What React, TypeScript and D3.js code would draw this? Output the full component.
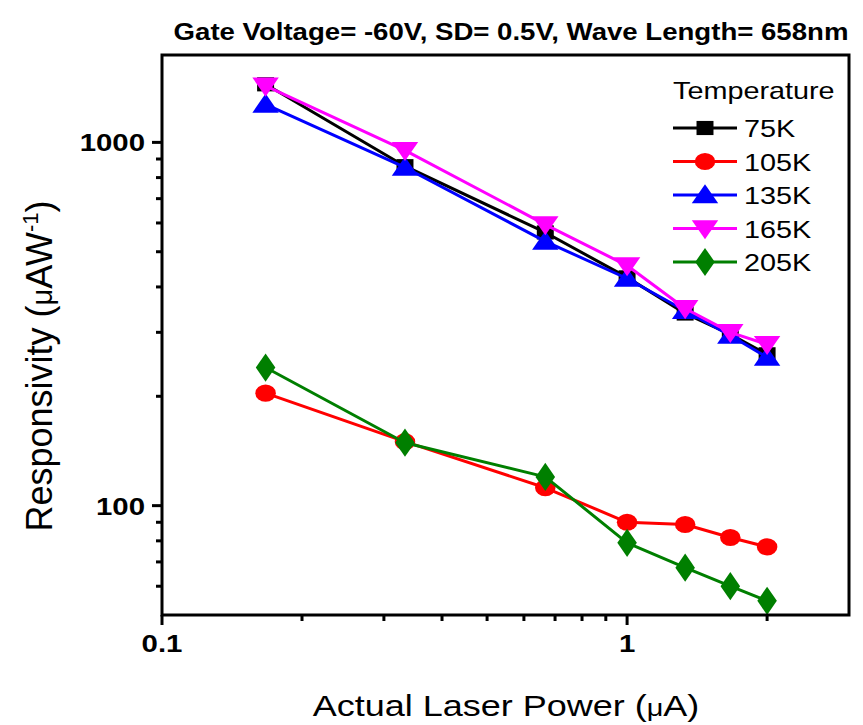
import React from "react";
import * as d3 from "d3";

// Laser power (µA) at which responsivity was measured
const power = [0.167, 0.333, 0.667, 1, 1.333, 1.667, 2];

// Responsivity (µA/W) for each temperature
const r75K = [1445, 860, 565, 425, 338, 296, 261];
const r105K = [204, 150, 112, 90, 88.7, 81.7, 77];
const r135K = [1273, 853, 534, 422, 344, 294, 256];
const r165K = [1430, 951, 594, 458, 349, 300, 278];
const r205K = [240, 149, 120, 79, 67.5, 60, 54.7];

const seriesNames = ["75K", "105K", "135K", "165K", "205K"];
const seriesValues = [r75K, r105K, r135K, r165K, r205K];
const seriesColors = ["#000000", "#ff0000", "#0000ff", "#ff00ff", "#007f00"];

const yMajorTicks = [100, 1000];
const yMinorTicks = [60, 70, 80, 90, 200, 300, 400, 500, 600, 700, 800, 900];
const xMajorTicks = [0.1, 1];
const xMinorTicks = [0.2, 0.3, 0.4, 0.5, 0.6, 0.7, 0.8, 0.9, 2];

const W = 863;
const H = 725;
const left = 162;
const right = 849;
const top = 55;
const bottom = 615;
// the figure's artwork is drawn slightly wide
const SX = 1.2;

const x = d3.scaleLog().domain([0.1, 3]).range([left, right]);
const y = d3.scaleLog().domain([50, 1740]).range([bottom, top]);

const symbolTypes = [
  d3.symbolSquare,
  d3.symbolCircle,
  d3.symbolTriangle,
  d3.symbolTriangle,
  d3.symbolDiamond,
];
const symbolSizes = [200, 230, 210, 210, 230];
const symbolRot = [0, 0, 0, 180, 0];

function Marker({ i, cx, cy }: { i: number; cx: number; cy: number }) {
  const d = d3.symbol().type(symbolTypes[i]).size(symbolSizes[i])() as string;
  const ty = i === 2 ? 2 : i === 3 ? -2 : 0;
  return (
    <path
      d={d}
      fill={seriesColors[i]}
      transform={`translate(${cx},${cy + ty}) scale(${SX},1) rotate(${symbolRot[i]})`}
    />
  );
}

function Label({
  x0,
  y0,
  anchor,
  size,
  bold,
  children,
}: {
  x0: number;
  y0: number;
  anchor: "start" | "middle" | "end";
  size: number;
  bold?: boolean;
  children: React.ReactNode;
}) {
  return (
    <text
      transform={`translate(${x0},${y0}) scale(${SX},1)`}
      textAnchor={anchor}
      fontSize={size}
      fontWeight={bold ? "bold" : "normal"}
      fill="#000"
    >
      {children}
    </text>
  );
}

export default function App() {
  const line = d3
    .line<number>()
    .x((_, k) => x(power[k]))
    .y((v) => y(v));

  const font = "Arial, 'Liberation Sans', Helvetica, sans-serif";

  return (
    <svg
      width={W}
      height={H}
      style={{ position: "absolute", left: 0, top: 0, background: "#fff" }}
      fontFamily={font}
    >
      <rect x={0} y={0} width={W} height={H} fill="#fff" />
      {/* title */}
      <Label x0={511} y0={40} anchor="middle" size={23} bold>
        Gate Voltage= -60V, SD= 0.5V, Wave Length= 658nm
      </Label>

      {/* series */}
      {seriesValues.map((vals, i) => (
        <g key={seriesNames[i]}>
          <path
            d={line(vals) as string}
            fill="none"
            stroke={seriesColors[i]}
            strokeWidth={3}
            strokeLinejoin="round"
          />
          {vals.map((v, k) => (
            <Marker key={k} i={i} cx={x(power[k])} cy={y(v)} />
          ))}
        </g>
      ))}

      {/* frame */}
      <rect
        x={left}
        y={top}
        width={right - left}
        height={bottom - top}
        fill="none"
        stroke="#000"
        strokeWidth={3}
      />

      {/* y ticks */}
      {yMajorTicks.map((t) => (
        <g key={"ym" + t}>
          <line x1={left - 10} x2={left} y1={y(t)} y2={y(t)} stroke="#000" strokeWidth={3} />
          <Label x0={left - 17} y0={y(t) + 9} anchor="end" size={24.5} bold>
            {t}
          </Label>
        </g>
      ))}
      {yMinorTicks.map((t) => (
        <line key={"yn" + t} x1={left - 6} x2={left} y1={y(t)} y2={y(t)} stroke="#000" strokeWidth={3} />
      ))}

      {/* x ticks */}
      {xMajorTicks.map((t) => (
        <g key={"xm" + t}>
          <line x1={x(t)} x2={x(t)} y1={bottom} y2={bottom + 10} stroke="#000" strokeWidth={3} />
          <Label x0={x(t)} y0={bottom + 37} anchor="middle" size={24.5} bold>
            {t}
          </Label>
        </g>
      ))}
      {xMinorTicks.map((t) => (
        <line key={"xn" + t} x1={x(t)} x2={x(t)} y1={bottom} y2={bottom + 6} stroke="#000" strokeWidth={3} />
      ))}

      {/* axis titles */}
      <Label x0={506} y0={716} anchor="middle" size={30}>
        Actual Laser Power (<tspan fontSize={24}>μ</tspan>A)
      </Label>
      <text
        transform="translate(52,366) rotate(-90)"
        textAnchor="middle"
        fontSize={36}
      >
        Responsivity (<tspan fontSize={29}>μ</tspan>AW
        <tspan fontSize={22} dy={-14}>-1</tspan>
        <tspan dy={14}>)</tspan>
      </text>

      {/* legend */}
      <Label x0={673} y0={99} anchor="start" size={24}>
        Temperature
      </Label>
      {seriesNames.map((name, i) => {
        const ly = 128 + i * 33.5;
        return (
          <g key={"lg" + name}>
            <line x1={673} x2={737} y1={ly} y2={ly} stroke={seriesColors[i]} strokeWidth={3} />
            <Marker i={i} cx={705} cy={ly} />
            <Label x0={744} y0={ly + 9} anchor="start" size={24}>
              {name}
            </Label>
          </g>
        );
      })}
    </svg>
  );
}
